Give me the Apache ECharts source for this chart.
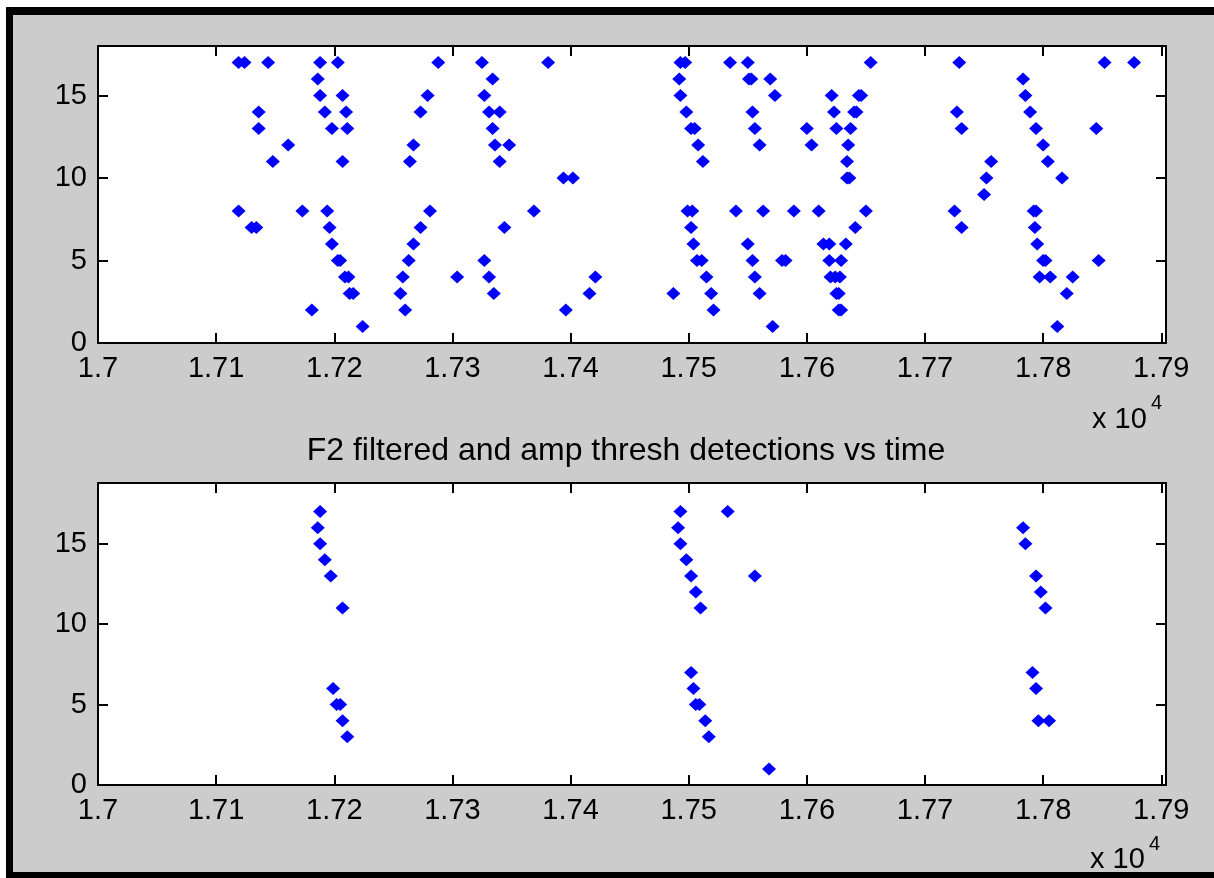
<!DOCTYPE html>
<html>
<head>
<meta charset="utf-8">
<script src="https://cdn.jsdelivr.net/npm/echarts@6/dist/echarts.min.js"></script>
<style>
html,body{margin:0;padding:0;background:#fff;width:1214px;height:878px;overflow:hidden;}
#frame{position:absolute;left:6px;top:7px;width:1208px;height:871px;background:#000;}
#fig{position:absolute;left:13px;top:15px;width:1201px;height:857px;background:#cccccc;}
#c{position:absolute;left:0;top:0;width:1214px;height:878px;}
</style>
</head>
<body>
<div id="frame"></div>
<div id="fig"></div>
<div id="c"></div>
<script>
// ---- tick labels / axis values ----
const xTicks = [17000,17100,17200,17300,17400,17500,17600,17700,17800,17900];
const yTicks = [0,5,10,15];
const xExponentText = 'x 10';
const xExponent = '4';
const bottomTitle = 'F2 filtered and amp thresh detections vs time';

// ---- top panel: detection time (raw) and channel ----
const topTimes = [
  17119,17124,17144,17188,17203,17288,17325,17381,17493,17497,17535,17550,17654,17729,17852,17877,
  17186,17334,17492,17551,17553,17569,17783,
  17188,17207,17279,17327,17493,17573,17621,17644,17646,17785,
  17136,17192,17210,17273,17331,17340,17498,17554,17623,17640,17642,17727,17789,
  17136,17198,17211,17334,17502,17505,17556,17600,17625,17637,17731,17794,17845,
  17161,17267,17336,17348,17508,17560,17604,17635,17800,
  17148,17207,17264,17340,17512,17634,17756,17804,
  17394,17402,17634,17636,17752,17816,
  17750,
  17119,17173,17194,17281,17369,17499,17503,17540,17563,17589,17610,17650,17725,17792,17794,
  17130,17134,17196,17273,17344,17502,17641,17731,17793,
  17198,17267,17504,17550,17614,17619,17633,17795,
  17203,17205,17263,17327,17507,17511,17554,17579,17582,17619,17629,17800,17802,17847,
  17209,17212,17258,17304,17331,17421,17515,17556,17620,17624,17628,17797,17806,17825,
  17213,17216,17256,17335,17416,17487,17519,17560,17625,17627,17820,
  17181,17260,17396,17521,17627,17629,
  17224,17571,17812
];
const topChannels = [
  17,17,17,17,17,17,17,17,17,17,17,17,17,17,17,17,
  16,16,16,16,16,16,16,
  15,15,15,15,15,15,15,15,15,15,
  14,14,14,14,14,14,14,14,14,14,14,14,14,
  13,13,13,13,13,13,13,13,13,13,13,13,13,
  12,12,12,12,12,12,12,12,12,
  11,11,11,11,11,11,11,11,
  10,10,10,10,10,10,
  9,
  8,8,8,8,8,8,8,8,8,8,8,8,8,8,8,
  7,7,7,7,7,7,7,7,7,
  6,6,6,6,6,6,6,6,
  5,5,5,5,5,5,5,5,5,5,5,5,5,5,
  4,4,4,4,4,4,4,4,4,4,4,4,4,4,
  3,3,3,3,3,3,3,3,3,3,3,
  2,2,2,2,2,2,
  1,1,1
];

// ---- bottom panel: filtered detections ----
const botTimes = [
  17188,17493,17533,
  17186,17491,17783,
  17188,17493,17785,
  17192,17498,
  17197,17502,17556,17794,
  17506,17798,
  17207,17510,17802,
  17502,17791,
  17199,17504,17794,
  17202,17205,17506,17509,
  17207,17514,17796,17805,
  17211,17517,
  17568
];
const botChannels = [
  17,17,17,
  16,16,16,
  15,15,15,
  14,14,
  13,13,13,13,
  12,12,
  11,11,11,
  7,7,
  6,6,6,
  5,5,5,5,
  4,4,4,4,
  3,3,
  1
];

const FONT = "'Liberation Sans', Arial, sans-serif";
const X_MIN = 17000, X_MAX = 17904;

function fmtX(v){ return String(parseFloat((v/10000).toFixed(2))); }

function xAx(grid, pos, labels){
  return {
    type:'value', gridIndex:grid, position:pos, min:X_MIN, max:X_MAX,
    axisLine:{show:true, onZero:false, lineStyle:{color:'#000', width:2}},
    axisTick:{show:true, inside:true, length:10, customValues:xTicks, lineStyle:{color:'#000', width:2}},
    axisLabel:{show:labels, customValues:xTicks, formatter:fmtX, color:'#000', fontSize:29, fontFamily:FONT, margin:11},
    splitLine:{show:false}
  };
}
function yAx(grid, pos, max, labels){
  return {
    type:'value', gridIndex:grid, position:pos, min:0, max:max,
    axisLine:{show:true, onZero:false, lineStyle:{color:'#000', width:2}},
    axisTick:{show:true, inside:true, length:10, customValues:yTicks, lineStyle:{color:'#000', width:2}},
    axisLabel:{show:labels, customValues:yTicks, color:'#000', fontSize:29, fontFamily:FONT, margin:11},
    splitLine:{show:false}
  };
}

const topData = topTimes.map((t,i)=>[t, topChannels[i]]);
const botData = botTimes.map((t,i)=>[t, botChannels[i]]);

const chart = echarts.init(document.getElementById('c'), null, {renderer:'canvas'});
chart.setOption({
  backgroundColor:'transparent',
  animation:false,
  grid:[
    {left:98, top:46, width:1068, height:297, show:true, backgroundColor:'#fff', borderWidth:0},
    {left:98, top:483, width:1068, height:302, show:true, backgroundColor:'#fff', borderWidth:0}
  ],
  xAxis:[ xAx(0,'bottom',true), xAx(0,'top',false), xAx(1,'bottom',true), xAx(1,'top',false) ],
  yAxis:[ yAx(0,'left',18,true), yAx(0,'right',18,false), yAx(1,'left',18.78,true), yAx(1,'right',18.78,false) ],
  series:[
    {type:'scatter', xAxisIndex:0, yAxisIndex:0, data:topData, symbol:'diamond', symbolSize:[14,13],
     itemStyle:{color:'#0000ff', opacity:1}, silent:true},
    {type:'scatter', xAxisIndex:2, yAxisIndex:2, data:botData, symbol:'diamond', symbolSize:[14,13],
     itemStyle:{color:'#0000ff', opacity:1}, silent:true}
  ],
  graphic:[
    {type:'text', x:626, y:451, style:{text:bottomTitle, fill:'#000', font:'32px '+FONT, textAlign:'center', textVerticalAlign:'middle'}},
    {type:'text', x:1092, y:420, style:{text:xExponentText, fill:'#000', font:'29px '+FONT, textAlign:'left', textVerticalAlign:'middle'}},
    {type:'text', x:1151, y:403, style:{text:xExponent, fill:'#000', font:'20px '+FONT, textAlign:'left', textVerticalAlign:'middle'}},
    {type:'text', x:1090, y:860, style:{text:xExponentText, fill:'#000', font:'29px '+FONT, textAlign:'left', textVerticalAlign:'middle'}},
    {type:'text', x:1149, y:844, style:{text:xExponent, fill:'#000', font:'20px '+FONT, textAlign:'left', textVerticalAlign:'middle'}}
  ]
});
</script>
</body>
</html>
